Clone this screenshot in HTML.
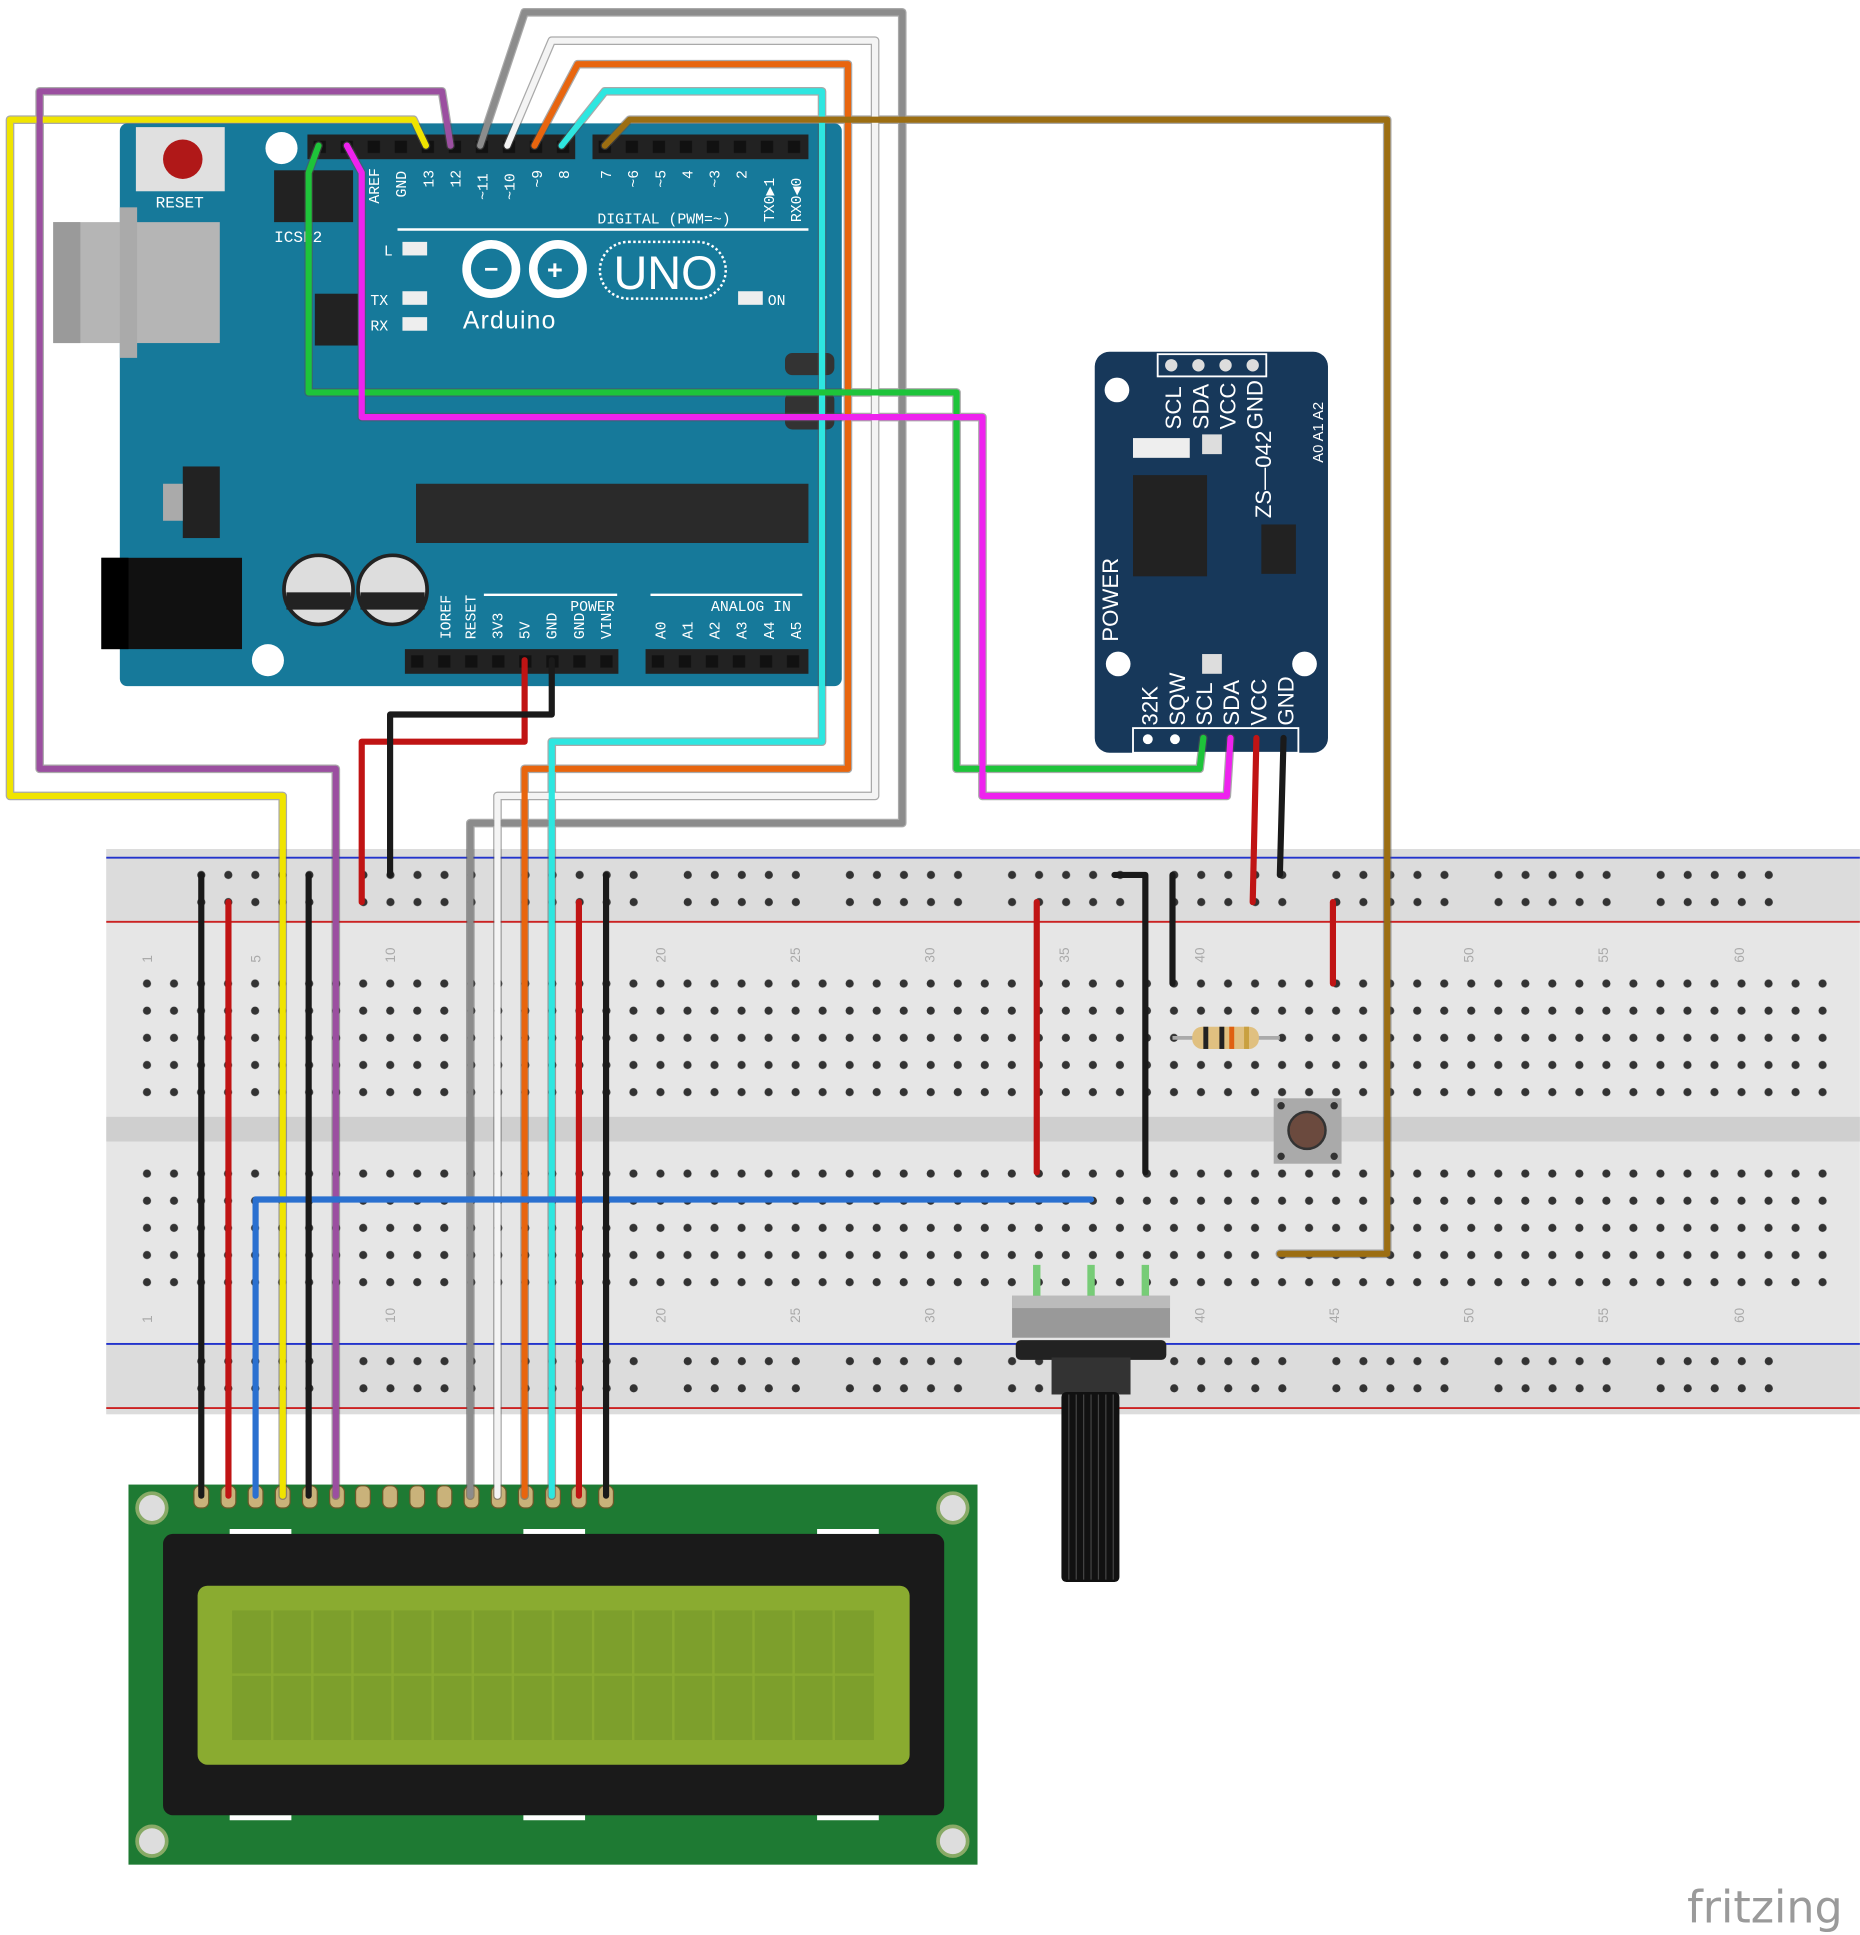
<!DOCTYPE html>
<html><head><meta charset="utf-8"><style>html,body{margin:0;padding:0;background:#fff}svg{display:block}</style></head>
<body>
<svg width="1860" height="1935" viewBox="0 0 1507 1568" xmlns="http://www.w3.org/2000/svg" font-family="Liberation Mono, monospace">
<defs>
<pattern id="h" x="108" y="786" width="21.9" height="22" patternUnits="userSpaceOnUse"><circle cx="11" cy="11" r="3.3" fill="#333"/></pattern>
<pattern id="hr" x="152" y="698" width="21.9" height="22" patternUnits="userSpaceOnUse"><circle cx="11" cy="11" r="3.3" fill="#333"/></pattern>
<pattern id="hp" x="249" y="109" width="21.9" height="20" patternUnits="userSpaceOnUse"><rect x="5" y="5" width="10" height="10" fill="#111"/></pattern>
<pattern id="hp2" x="480" y="109" width="21.9" height="20" patternUnits="userSpaceOnUse"><rect x="5" y="5" width="10" height="10" fill="#111"/></pattern>
<pattern id="hp3" x="328" y="526" width="21.9" height="20" patternUnits="userSpaceOnUse"><rect x="5" y="5" width="10" height="10" fill="#111"/></pattern>
<pattern id="hp4" x="523" y="526" width="21.9" height="20" patternUnits="userSpaceOnUse"><rect x="5" y="5" width="10" height="10" fill="#111"/></pattern>
</defs>
<!-- Breadboard -->
<rect x="86" y="688" width="1421" height="458" fill="#e6e6e6"/>
<rect x="86" y="688" width="1421" height="60" fill="#dcdcdc"/>
<rect x="86" y="1088" width="1421" height="58" fill="#dcdcdc"/>
<rect x="86" y="905" width="1421" height="20" fill="#cfcfcf"/>
<line x1="86" y1="695" x2="1507" y2="695" stroke="#2233cc" stroke-width="1.5"/>
<line x1="86" y1="747" x2="1507" y2="747" stroke="#cc2222" stroke-width="1.5"/>
<line x1="86" y1="1089" x2="1507" y2="1089" stroke="#2233cc" stroke-width="1.5"/>
<line x1="86" y1="1141" x2="1507" y2="1141" stroke="#cc2222" stroke-width="1.5"/>
<rect x="108" y="786" width="1380" height="110" fill="url(#h)"/>
<rect x="108" y="939" width="1380" height="110" fill="url(#h)"/>
<g fill="url(#hr)">
<rect x="152" y="698" width="110" height="44"/><rect x="283" y="698" width="110" height="44"/><rect x="414" y="698" width="110" height="44"/><rect x="545" y="698" width="110" height="44"/><rect x="676" y="698" width="110" height="44"/><rect x="807" y="698" width="110" height="44"/><rect x="939" y="698" width="110" height="44"/><rect x="1069" y="698" width="110" height="44"/><rect x="1201" y="698" width="110" height="44"/><rect x="1332" y="698" width="110" height="44"/>
</g>
<g fill="url(#hr)" transform="translate(0,394)">
<rect x="152" y="698" width="110" height="44"/><rect x="283" y="698" width="110" height="44"/><rect x="414" y="698" width="110" height="44"/><rect x="545" y="698" width="110" height="44"/><rect x="676" y="698" width="110" height="44"/><rect x="807" y="698" width="110" height="44"/><rect x="939" y="698" width="110" height="44"/><rect x="1069" y="698" width="110" height="44"/><rect x="1201" y="698" width="110" height="44"/><rect x="1332" y="698" width="110" height="44"/>
</g>
<g font-family="Liberation Sans, sans-serif" font-size="11" fill="#aaa">
<g transform="translate(123,780) rotate(-90)"><text>1</text></g><g transform="translate(211,780) rotate(-90)"><text>5</text></g><g transform="translate(320,780) rotate(-90)"><text>10</text></g><g transform="translate(539,780) rotate(-90)"><text>20</text></g><g transform="translate(648,780) rotate(-90)"><text>25</text></g><g transform="translate(757,780) rotate(-90)"><text>30</text></g><g transform="translate(866,780) rotate(-90)"><text>35</text></g><g transform="translate(976,780) rotate(-90)"><text>40</text></g><g transform="translate(1194,780) rotate(-90)"><text>50</text></g><g transform="translate(1303,780) rotate(-90)"><text>55</text></g><g transform="translate(1413,780) rotate(-90)"><text>60</text></g>
<g transform="translate(123,1072) rotate(-90)"><text>1</text></g><g transform="translate(320,1072) rotate(-90)"><text>10</text></g><g transform="translate(539,1072) rotate(-90)"><text>20</text></g><g transform="translate(648,1072) rotate(-90)"><text>25</text></g><g transform="translate(757,1072) rotate(-90)"><text>30</text></g><g transform="translate(976,1072) rotate(-90)"><text>40</text></g><g transform="translate(1085,1072) rotate(-90)"><text>45</text></g><g transform="translate(1194,1072) rotate(-90)"><text>50</text></g><g transform="translate(1303,1072) rotate(-90)"><text>55</text></g><g transform="translate(1413,1072) rotate(-90)"><text>60</text></g>
</g>
<!-- Arduino -->
<rect x="97" y="100" width="585" height="456" rx="6" fill="#16799a"/>
<rect x="43" y="180" width="135" height="98" fill="#b5b5b5"/><rect x="43" y="180" width="22" height="98" fill="#9a9a9a"/><rect x="97" y="168" width="14" height="122" fill="#aaa"/>
<rect x="110" y="103" width="72" height="52" fill="#e0e0e0"/><circle cx="148" cy="129" r="16" fill="#b01818"/>
<text x="126" y="168" font-size="13" fill="#fff">RESET</text>
<text x="222" y="196" font-size="13" fill="#fff">ICSP2</text>
<rect x="222" y="138" width="64" height="42" fill="#222"/>
<rect x="82" y="452" width="114" height="74" fill="#111"/><rect x="82" y="452" width="22" height="74" fill="#000"/>
<circle cx="258" cy="478" r="28" fill="#ddd" stroke="#222" stroke-width="3"/><rect x="232" y="480" width="52" height="14" fill="#222"/>
<circle cx="318" cy="478" r="28" fill="#ddd" stroke="#222" stroke-width="3"/><rect x="292" y="480" width="52" height="14" fill="#222"/>
<circle cx="228" cy="120" r="13" fill="#fff"/><circle cx="217" cy="535" r="13" fill="#fff"/>
<rect x="148" y="378" width="30" height="58" fill="#222"/><rect x="132" y="392" width="16" height="30" fill="#aaa"/>
<rect x="255" y="238" width="35" height="42" fill="#222"/>
<rect x="337" y="392" width="318" height="48" fill="#2a2a2a"/>
<rect x="249" y="109" width="217" height="20" fill="#222"/><rect x="249" y="109" width="217" height="20" fill="url(#hp)"/>
<rect x="480" y="109" width="175" height="20" fill="#222"/><rect x="480" y="109" width="175" height="20" fill="url(#hp2)"/>
<rect x="328" y="526" width="173" height="20" fill="#222"/><rect x="328" y="526" width="173" height="20" fill="url(#hp3)"/>
<rect x="523" y="526" width="132" height="20" fill="#222"/><rect x="523" y="526" width="132" height="20" fill="url(#hp4)"/>
<line x1="322" y1="186" x2="655" y2="186" stroke="#fff" stroke-width="2"/>
<text x="484" y="181" font-size="12" fill="#fff">DIGITAL (PWM=~)</text>
<g font-size="12" fill="#fff">
<g transform="translate(307,165) rotate(-90)"><text>AREF</text></g><g transform="translate(329,160) rotate(-90)"><text>GND</text></g><g transform="translate(351,152) rotate(-90)"><text>13</text></g><g transform="translate(373,152) rotate(-90)"><text>12</text></g><g transform="translate(395,162) rotate(-90)"><text>~11</text></g><g transform="translate(417,162) rotate(-90)"><text>~10</text></g><g transform="translate(439,152) rotate(-90)"><text>~9</text></g><g transform="translate(461,145) rotate(-90)"><text>8</text></g><g transform="translate(495,145) rotate(-90)"><text>7</text></g><g transform="translate(517,152) rotate(-90)"><text>~6</text></g><g transform="translate(539,152) rotate(-90)"><text>~5</text></g><g transform="translate(561,145) rotate(-90)"><text>4</text></g><g transform="translate(583,152) rotate(-90)"><text>~3</text></g><g transform="translate(605,145) rotate(-90)"><text>2</text></g><g transform="translate(627,180) rotate(-90)"><text>TX0▶1</text></g><g transform="translate(649,180) rotate(-90)"><text>RX0◀0</text></g>
<g transform="translate(365,518) rotate(-90)"><text>IOREF</text></g><g transform="translate(385,518) rotate(-90)"><text>RESET</text></g><g transform="translate(407,518) rotate(-90)"><text>3V3</text></g><g transform="translate(429,518) rotate(-90)"><text>5V</text></g><g transform="translate(451,518) rotate(-90)"><text>GND</text></g><g transform="translate(473,518) rotate(-90)"><text>GND</text></g><g transform="translate(495,518) rotate(-90)"><text>VIN</text></g>
<g transform="translate(539,518) rotate(-90)"><text>A0</text></g><g transform="translate(561,518) rotate(-90)"><text>A1</text></g><g transform="translate(583,518) rotate(-90)"><text>A2</text></g><g transform="translate(605,518) rotate(-90)"><text>A3</text></g><g transform="translate(627,518) rotate(-90)"><text>A4</text></g><g transform="translate(649,518) rotate(-90)"><text>A5</text></g>
<text x="462" y="495">POWER</text><text x="576" y="495">ANALOG IN</text>
<line x1="392" y1="482" x2="500" y2="482" stroke="#fff" stroke-width="2"/><line x1="527" y1="482" x2="650" y2="482" stroke="#fff" stroke-width="2"/>
<text x="311" y="207">L</text><text x="300" y="247">TX</text><text x="300" y="268">RX</text><text x="622" y="247">ON</text>
</g>
<rect x="326" y="196" width="20" height="11" fill="#eee"/><rect x="326" y="236" width="20" height="11" fill="#eee"/><rect x="326" y="257" width="20" height="11" fill="#eee"/><rect x="598" y="236" width="20" height="11" fill="#eee"/>
<g fill="none" stroke="#fff" stroke-width="7"><circle cx="398" cy="218" r="20"/><circle cx="452" cy="218" r="20"/></g>
<text x="392" y="225" font-size="20" fill="#fff" font-weight="bold">−</text><text x="443" y="226" font-size="22" fill="#fff" font-weight="bold">+</text>
<rect x="486" y="196" width="102" height="46" rx="23" fill="none" stroke="#fff" stroke-width="2" stroke-dasharray="2 2"/>
<text x="497" y="234" font-family="Liberation Sans, sans-serif" font-size="38" fill="#fff">UNO</text>
<text x="375" y="266" font-family="Liberation Sans, sans-serif" font-size="20" fill="#fff" letter-spacing="1">Arduino</text>
<rect x="636" y="286" width="40" height="18" rx="6" fill="#333"/><rect x="636" y="318" width="40" height="30" rx="6" fill="#333"/>
<!-- RTC -->
<rect x="887" y="285" width="189" height="325" rx="12" fill="#17385a"/>
<circle cx="905" cy="316" r="10" fill="#fff"/><circle cx="906" cy="538" r="10" fill="#fff"/><circle cx="1057" cy="538" r="10" fill="#fff"/>
<rect x="938" y="287" width="88" height="18" fill="none" stroke="#fff" stroke-width="1.5"/>
<g fill="#ddd"><circle cx="949" cy="296" r="5"/><circle cx="971" cy="296" r="5"/><circle cx="993" cy="296" r="5"/><circle cx="1015" cy="296" r="5"/></g>
<rect x="918" y="385" width="60" height="82" fill="#222"/><rect x="1022" y="425" width="28" height="40" fill="#222"/>
<rect x="918" y="355" width="46" height="16" fill="#eee"/><rect x="974" y="352" width="16" height="16" fill="#ddd"/><rect x="974" y="530" width="16" height="16" fill="#ddd"/>
<rect x="918" y="590" width="134" height="20" fill="none" stroke="#fff" stroke-width="1.5"/>
<g font-family="Liberation Sans, sans-serif" font-size="18" fill="#fff">
<g transform="translate(957,348) rotate(-90)"><text>SCL</text></g><g transform="translate(979,348) rotate(-90)"><text>SDA</text></g><g transform="translate(1001,348) rotate(-90)"><text>VCC</text></g><g transform="translate(1023,348) rotate(-90)"><text>GND</text></g>
<g transform="translate(1030,420) rotate(-90)"><text>ZS—042</text></g>
<g transform="translate(906,520) rotate(-90)"><text>POWER</text></g>
<g transform="translate(938,588) rotate(-90)"><text>32K</text></g><g transform="translate(960,588) rotate(-90)"><text>SQW</text></g><g transform="translate(982,588) rotate(-90)"><text>SCL</text></g><g transform="translate(1004,588) rotate(-90)"><text>SDA</text></g><g transform="translate(1026,588) rotate(-90)"><text>VCC</text></g><g transform="translate(1048,588) rotate(-90)"><text>GND</text></g>
<g transform="translate(1072,375) rotate(-90)" font-size="12"><text>A0 A1 A2</text></g>
</g>
<g fill="#fff"><circle cx="930" cy="599" r="4"/><circle cx="952" cy="599" r="4"/></g>
<!-- LCD -->
<rect x="104" y="1203" width="688" height="308" fill="#1e7a33"/>
<circle cx="123" cy="1222" r="12" fill="#ddd" stroke="#8a6" stroke-width="3"/><circle cx="772" cy="1222" r="12" fill="#ddd" stroke="#8a6" stroke-width="3"/><circle cx="123" cy="1492" r="12" fill="#ddd" stroke="#8a6" stroke-width="3"/><circle cx="772" cy="1492" r="12" fill="#ddd" stroke="#8a6" stroke-width="3"/>
<rect x="132" y="1243" width="633" height="228" rx="8" fill="#1a1a1a"/>
<rect x="160" y="1285" width="577" height="145" rx="8" fill="#8aab30"/>
<rect x="188" y="1305" width="520" height="105" fill="#7d9f2c"/>
<g stroke="#8aab30" stroke-width="2">
<line x1="188" y1="1357" x2="708" y2="1357"/>
<line x1="220.5" y1="1305" x2="220.5" y2="1410"/><line x1="253" y1="1305" x2="253" y2="1410"/><line x1="285.5" y1="1305" x2="285.5" y2="1410"/><line x1="318" y1="1305" x2="318" y2="1410"/><line x1="350.5" y1="1305" x2="350.5" y2="1410"/><line x1="383" y1="1305" x2="383" y2="1410"/><line x1="415.5" y1="1305" x2="415.5" y2="1410"/><line x1="448" y1="1305" x2="448" y2="1410"/><line x1="480.5" y1="1305" x2="480.5" y2="1410"/><line x1="513" y1="1305" x2="513" y2="1410"/><line x1="545.5" y1="1305" x2="545.5" y2="1410"/><line x1="578" y1="1305" x2="578" y2="1410"/><line x1="610.5" y1="1305" x2="610.5" y2="1410"/><line x1="643" y1="1305" x2="643" y2="1410"/><line x1="675.5" y1="1305" x2="675.5" y2="1410"/>
</g>
<g fill="#fff"><rect x="186" y="1239" width="50" height="4"/><rect x="424" y="1239" width="50" height="4"/><rect x="662" y="1239" width="50" height="4"/><rect x="186" y="1471" width="50" height="4"/><rect x="424" y="1471" width="50" height="4"/><rect x="662" y="1471" width="50" height="4"/></g>
<g fill="#c9b27a" stroke="#6a5a2a" stroke-width="1"><rect x="157" y="1204" width="12" height="18" rx="5"/><rect x="179" y="1204" width="12" height="18" rx="5"/><rect x="201" y="1204" width="12" height="18" rx="5"/><rect x="223" y="1204" width="12" height="18" rx="5"/><rect x="245" y="1204" width="12" height="18" rx="5"/><rect x="267" y="1204" width="12" height="18" rx="5"/><rect x="288" y="1204" width="12" height="18" rx="5"/><rect x="310" y="1204" width="12" height="18" rx="5"/><rect x="332" y="1204" width="12" height="18" rx="5"/><rect x="354" y="1204" width="12" height="18" rx="5"/><rect x="376" y="1204" width="12" height="18" rx="5"/><rect x="398" y="1204" width="12" height="18" rx="5"/><rect x="420" y="1204" width="12" height="18" rx="5"/><rect x="442" y="1204" width="12" height="18" rx="5"/><rect x="463" y="1204" width="12" height="18" rx="5"/><rect x="485" y="1204" width="12" height="18" rx="5"/></g>
<!-- Pot, button, resistor -->
<g stroke="#7c7" stroke-width="6"><line x1="840" y1="1025" x2="840" y2="1052"/><line x1="884" y1="1025" x2="884" y2="1052"/><line x1="928" y1="1025" x2="928" y2="1052"/></g>
<rect x="820" y="1050" width="128" height="34" fill="#999"/><rect x="820" y="1050" width="128" height="10" fill="#bbb"/>
<rect x="823" y="1086" width="122" height="16" rx="4" fill="#222"/>
<rect x="852" y="1100" width="64" height="30" fill="#333"/>
<rect x="860" y="1128" width="47" height="154" rx="4" fill="#111"/>
<g stroke="#444" stroke-width="1"><line x1="866" y1="1130" x2="866" y2="1280"/><line x1="872" y1="1130" x2="872" y2="1280"/><line x1="878" y1="1130" x2="878" y2="1280"/><line x1="884" y1="1130" x2="884" y2="1280"/><line x1="890" y1="1130" x2="890" y2="1280"/><line x1="896" y1="1130" x2="896" y2="1280"/><line x1="902" y1="1130" x2="902" y2="1280"/></g>
<rect x="1032" y="890" width="55" height="53" fill="#aaa"/><circle cx="1059" cy="916" r="15" fill="#6b4a3e" stroke="#333" stroke-width="2"/>
<g fill="#333"><circle cx="1038" cy="896" r="3"/><circle cx="1081" cy="896" r="3"/><circle cx="1038" cy="937" r="3"/><circle cx="1081" cy="937" r="3"/></g>
<line x1="950" y1="841" x2="1037" y2="841" stroke="#aaa" stroke-width="3"/>
<rect x="966" y="832" width="54" height="18" rx="8" fill="#e0c080"/>
<g fill="#222"><rect x="975" y="832" width="4" height="18"/><rect x="988" y="832" width="4" height="18"/></g><rect x="996" y="832" width="4" height="18" fill="#e06010"/><rect x="1008" y="832" width="4" height="18" fill="#c9a040"/>
<!-- Wires -->
<g fill="none" stroke-linejoin="round" stroke-linecap="round">
<g stroke-width="7" stroke="#555" opacity="0.5">
<polyline points="345,118 335,97 8,97 8,645 229,645 229,1212"/><polyline points="365,118 358,74 32,74 32,623 272,623 272,1212"/><polyline points="389,118 425,10 731,10 731,667 381,667 381,1212"/><polyline points="411,118 447,33 709,33 709,645 403,645 403,1212"/><polyline points="433,118 468,52 687,52 687,623 425,623 425,1212"/><polyline points="455,118 490,74 666,74 666,601 447,601 447,1212"/><polyline points="490,118 510,97 1124,97 1124,1016 1037,1016"/><polyline points="258,118 250,140 250,318 775,318 775,623 972,623 975,598"/><polyline points="281,118 293,140 293,338 796,338 796,645 994,645 997,598"/>
</g>
<polyline stroke="#f0e400" stroke-width="5" points="345,118 335,97 8,97 8,645 229,645 229,1212"/>
<polyline stroke="#9b4fa0" stroke-width="5" points="365,118 358,74 32,74 32,623 272,623 272,1212"/>
<polyline stroke="#8c8c8c" stroke-width="5" points="389,118 425,10 731,10 731,667 381,667 381,1212"/>
<polyline stroke="#f4f4f4" stroke-width="5" points="411,118 447,33 709,33 709,645 403,645 403,1212"/>
<polyline stroke="#e8650e" stroke-width="5" points="433,118 468,52 687,52 687,623 425,623 425,1212"/>
<polyline stroke="#2ee6e0" stroke-width="5" points="455,118 490,74 666,74 666,601 447,601 447,1212"/>
<polyline stroke="#9c6e12" stroke-width="5" points="490,118 510,97 1124,97 1124,1016 1037,1016"/>
<polyline stroke="#1ec43a" stroke-width="5" points="258,118 250,140 250,318 775,318 775,623 972,623 975,598"/>
<polyline stroke="#ee22ee" stroke-width="5" points="281,118 293,140 293,338 796,338 796,645 994,645 997,598"/>
<polyline stroke="#c01414" stroke-width="5" points="425,535 425,601 293,601 293,731"/>
<polyline stroke="#1a1a1a" stroke-width="5" points="447,535 447,579 316,579 316,709"/>
<polyline stroke="#c01414" stroke-width="5" points="1018,598 1015,731"/>
<polyline stroke="#1a1a1a" stroke-width="5" points="1040,598 1037,709"/>
<polyline stroke="#1a1a1a" stroke-width="5" points="163,709 163,1212"/>
<polyline stroke="#c01414" stroke-width="5" points="185,731 185,1212"/>
<polyline stroke="#2a70d0" stroke-width="5" points="207,1212 207,972 884,972"/>
<polyline stroke="#1a1a1a" stroke-width="5" points="250,709 250,1212"/>
<polyline stroke="#c01414" stroke-width="5" points="469,731 469,1212"/>
<polyline stroke="#1a1a1a" stroke-width="5" points="491,709 491,1212"/>
<polyline stroke="#c01414" stroke-width="5" points="840,731 840,950"/>
<polyline stroke="#1a1a1a" stroke-width="5" points="903,709 928,709 928,950"/>
<polyline stroke="#1a1a1a" stroke-width="5" points="950,709 950,797"/>
<polyline stroke="#c01414" stroke-width="5" points="1080,731 1080,797"/>
</g>
<text x="1367" y="1558" font-family="DejaVu Sans, sans-serif" font-size="36" fill="#9a9a9a">fritzing</text>
</svg>
</body></html>
